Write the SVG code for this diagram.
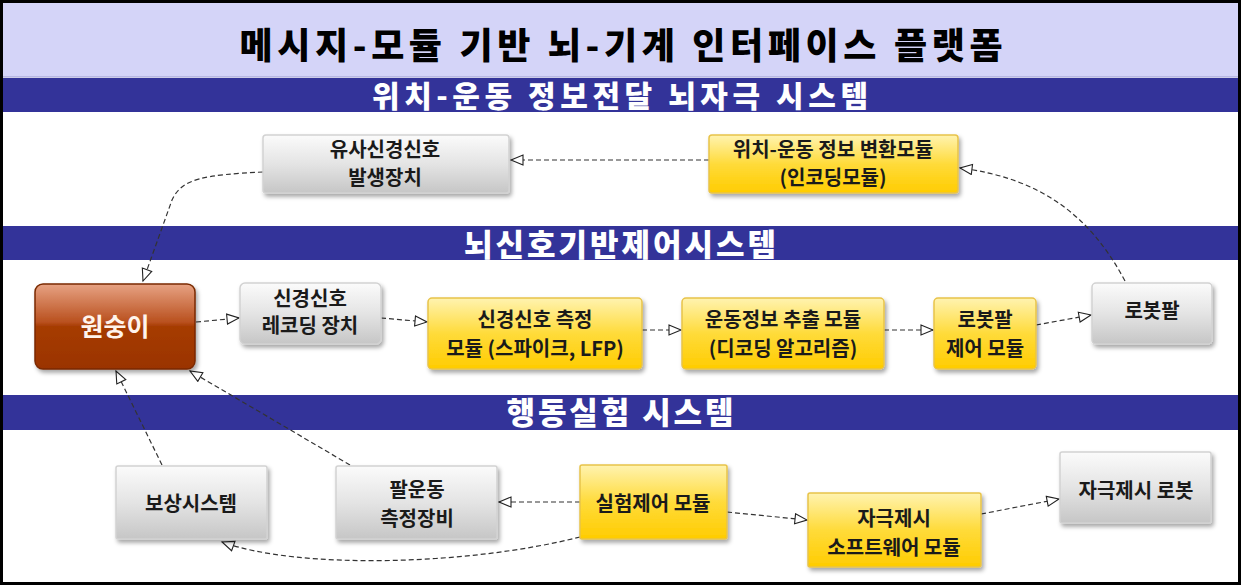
<svg xmlns="http://www.w3.org/2000/svg" width="1241" height="585" viewBox="0 0 1241 585">
<style>
.nt{font-family:"Noto Sans CJK KR","Noto Sans",sans-serif;font-weight:bold;font-size:20px;fill:#1a1a1a;text-anchor:middle}
.bt{font-family:"Noto Sans CJK KR","Noto Sans",sans-serif;font-weight:900;fill:#ffffff;text-anchor:middle}
.con{fill:none;stroke:#333;stroke-width:1.2;stroke-dasharray:5,3;marker-end:url(#arr)}
.gray{fill:url(#gGray);stroke:#d2d2d2;stroke-width:1.5;filter:url(#sh)}
.yel{fill:url(#gYel);stroke:#e8c34a;stroke-width:1.5;filter:url(#sh)}
.band{fill:#333399}
</style>
<defs>
<linearGradient id="gGray" x1="0" y1="0" x2="0" y2="1">
<stop offset="0" stop-color="#fbfbfb"/><stop offset="0.5" stop-color="#e4e4e4"/><stop offset="1" stop-color="#c6c6c6"/>
</linearGradient>
<linearGradient id="gYel" x1="0" y1="0" x2="0" y2="1">
<stop offset="0" stop-color="#fff3b0"/><stop offset="0.5" stop-color="#ffdb3a"/><stop offset="1" stop-color="#ffcc00"/>
</linearGradient>
<linearGradient id="gRed" x1="0" y1="0" x2="0" y2="1">
<stop offset="0" stop-color="#e7a283"/><stop offset="0.45" stop-color="#b9501e"/><stop offset="0.5" stop-color="#a63c02"/><stop offset="1" stop-color="#9a3300"/>
</linearGradient>
<filter id="sh" x="-10%" y="-10%" width="125%" height="130%">
<feDropShadow dx="2" dy="3" stdDeviation="2" flood-color="#000" flood-opacity="0.35"/>
</filter>
<marker id="arr" markerUnits="userSpaceOnUse" markerWidth="16" markerHeight="14" refX="13" refY="6" orient="auto">
<path d="M1,1 L13,6 L1,11 Z" fill="#fff" stroke="#222" stroke-width="1.1"/>
</marker>
</defs>

<rect x="0" y="0" width="1241" height="585" fill="#ffffff"/>
<rect x="2" y="2" width="1237" height="75" fill="#d4d4f8"/>
<line x1="2" y1="77" x2="1239" y2="77" stroke="#9a9ad0" stroke-width="1"/>
<g id="title">
<text x="621" y="59" font-family="Noto Sans CJK KR, sans-serif" font-weight="900" font-size="36" fill="#000" text-anchor="middle" textLength="763" lengthAdjust="spacing">메시지-모듈 기반 뇌-기계 인터페이스 플랫폼</text>
</g>
<g id="band1"><rect class="band" x="2" y="78" width="1237" height="34"/>
<text class="bt" x="620" y="107" font-size="30" textLength="496" lengthAdjust="spacing">위치-운동 정보전달 뇌자극 시스템</text></g>
<g id="band2"><rect class="band" x="2" y="226" width="1237" height="34"/>
<text class="bt" x="620" y="256" font-size="31" textLength="312" lengthAdjust="spacing">뇌신호기반제어시스템</text></g>
<g id="band3"><rect class="band" x="2" y="395" width="1237" height="35"/>
<text class="bt" x="620" y="424" font-size="31" textLength="227" lengthAdjust="spacing">행동실험 시스템</text></g>

<g id="connectors">
<path class="con" d="M709,160 L511,160"/>
<path class="con" d="M263,172 C205,175 182,178 172,200 L143,281"/>
<path class="con" d="M1125,281 C1090,215 1040,178 960,168"/>
<path class="con" d="M196,322 L239,318"/>
<path class="con" d="M381,318 L427,322"/>
<path class="con" d="M642,330 L681,330"/>
<path class="con" d="M884,330 L933,330"/>
<path class="con" d="M1036,325 L1091,315"/>
<path class="con" d="M162,465 L116,371"/>
<path class="con" d="M350,465 L190,371"/>
<path class="con" d="M580,502 L499,502"/>
<path class="con" d="M580,537 C470,565 300,570 222,542"/>
<path class="con" d="M727,512 L807,520"/>
<path class="con" d="M981,514 L1059,499"/>
</g>

<g id="n-pseudo"><rect class="gray" x="263" y="135" width="246" height="58" rx="3"/>
<text class="nt" x="385" y="157">유사신경신호</text><text class="nt" x="385" y="185">발생장치</text></g>
<g id="n-encode"><rect class="yel" x="709" y="135" width="249" height="58" rx="3"/>
<text class="nt" x="833" y="157">위치-운동 정보 변환모듈</text><text class="nt" x="833" y="185">(인코딩모듈)</text></g>

<g id="n-monkey"><rect x="35" y="284" width="160" height="85" rx="8" fill="url(#gRed)" stroke="#7a2900" stroke-width="1.5" filter="url(#sh)"/>
<text x="115" y="336" font-family="Noto Sans CJK KR, sans-serif" font-weight="bold" font-size="25" fill="#fff4ec" text-anchor="middle">원숭이</text></g>
<g id="n-record"><rect class="gray" x="240" y="283" width="141" height="61" rx="5"/>
<text class="nt" x="310" y="306">신경신호</text><text class="nt" x="310" y="333">레코딩 장치</text></g>
<g id="n-measure"><rect class="yel" x="428" y="298" width="214" height="71" rx="4"/>
<text class="nt" x="535" y="327">신경신호 측정</text><text class="nt" x="535" y="356">모듈 (스파이크, LFP)</text></g>
<g id="n-decode"><rect class="yel" x="682" y="298" width="202" height="71" rx="4"/>
<text class="nt" x="783" y="327">운동정보 추출 모듈</text><text class="nt" x="783" y="356">(디코딩 알고리즘)</text></g>
<g id="n-armctl"><rect class="yel" x="934" y="298" width="102" height="71" rx="4"/>
<text class="nt" x="985" y="327">로봇팔</text><text class="nt" x="985" y="356">제어 모듈</text></g>
<g id="n-robot"><rect class="gray" x="1092" y="283" width="120" height="61" rx="4"/>
<text class="nt" x="1152" y="318">로봇팔</text></g>

<g id="n-reward"><rect class="gray" x="116" y="466" width="151" height="73" rx="2"/>
<text class="nt" x="191" y="511">보상시스템</text></g>
<g id="n-armmeas"><rect class="gray" x="336" y="466" width="161" height="73" rx="2"/>
<text class="nt" x="417" y="497">팔운동</text><text class="nt" x="417" y="526">측정장비</text></g>
<g id="n-expctl"><rect class="yel" x="580" y="465" width="147" height="74" rx="2"/>
<text class="nt" x="653" y="511">실험제어 모듈</text></g>
<g id="n-stimsw"><rect class="yel" x="808" y="493" width="173" height="74" rx="2"/>
<text class="nt" x="894" y="526">자극제시</text><text class="nt" x="894" y="555">소프트웨어 모듈</text></g>
<g id="n-stimrobot"><rect class="gray" x="1060" y="452" width="151" height="71" rx="2"/>
<text class="nt" x="1136" y="498">자극제시 로봇</text></g>

<rect x="1.5" y="1.5" width="1238" height="582" fill="none" stroke="#000" stroke-width="3"/>
</svg>
